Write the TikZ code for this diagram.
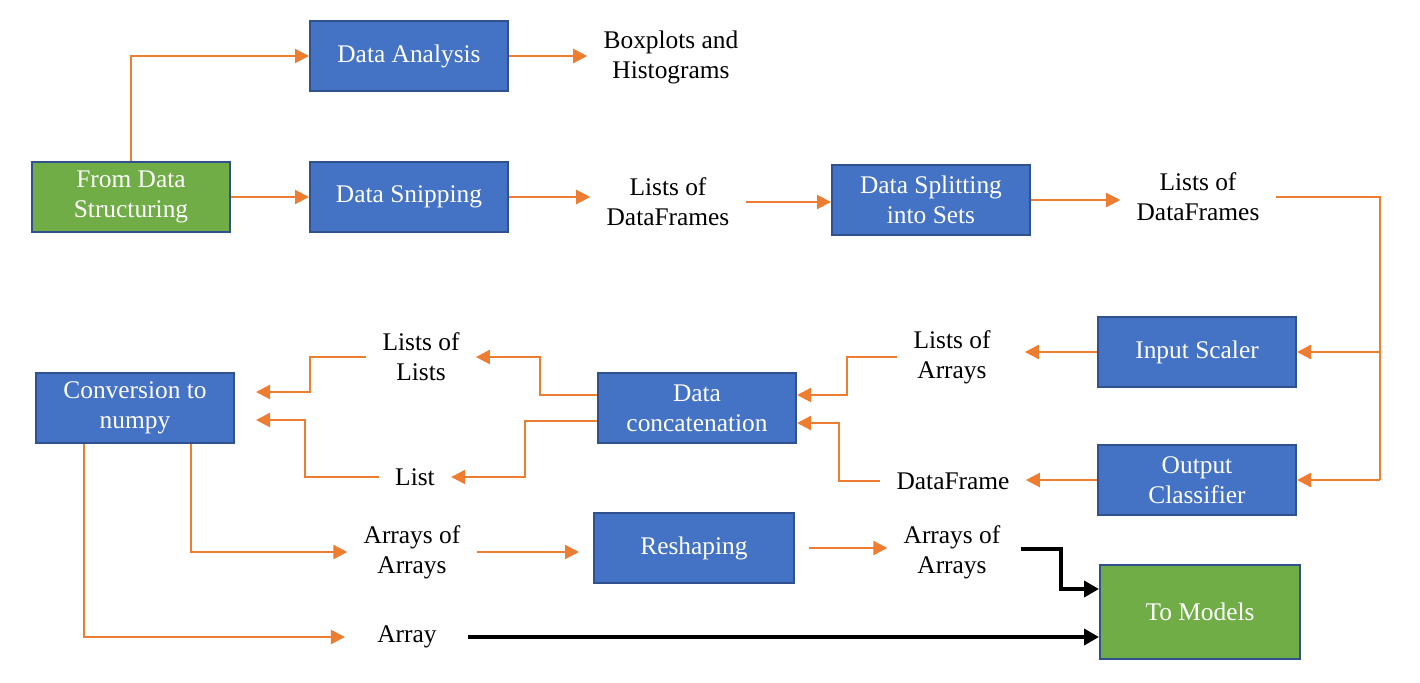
\documentclass[tikz,border=0pt]{standalone}
\usepackage{fontspec}
\setmainfont{Liberation Serif}
\usetikzlibrary{arrows.meta,calc}
\definecolor{boxblue}{HTML}{4472C4}
\definecolor{boxline}{HTML}{2F528F}
\definecolor{boxgreen}{HTML}{70AD47}
\definecolor{flow}{HTML}{ED7D31}
\tikzset{
  stage/.style={draw=boxline,line width=1pt,fill=boxblue,text=white,minimum width=99pt,minimum height=35pt,align=center,inner sep=2pt},
  ends/.style={stage,fill=boxgreen},
  datanode/.style={align=center,inner xsep=8pt,inner ysep=0pt},
  flowline/.style={draw=flow,line width=1.1pt},
  flowarrow/.style={flowline,-{Triangle[length=7pt,width=7pt]}},
  tomodel/.style={draw=black,line width=2pt,-{Triangle[length=7.5pt,width=8pt]}},
}
\begin{document}
\begin{tikzpicture}[x=0.5pt,y=-0.5pt,font=\fontsize{12.7pt}{15pt}\selectfont]
	\useasboundingbox (0,0) rectangle (1420,682);
	% processing stages
	\node[ends] (fds) at (131,197) {From Data\\Structuring};
	\node[stage] (da) at (409,56) {Data Analysis};
	\node[stage] (dsn) at (409,197) {Data Snipping};
	\node[stage] (dsp) at (931,200) {Data Splitting\\into Sets};
	\node[stage] (is) at (1197,352) {Input Scaler};
	\node[stage] (oc) at (1197,480) {Output\\Classifier};
	\node[stage] (cc) at (697,408) {Data\\concatenation};
	\node[stage] (cn) at (135,408) {Conversion to\\numpy};
	\node[stage,minimum width=100pt] (rs) at (694,548) {Reshaping};
	\node[ends,minimum width=100pt,minimum height=47pt] (tm) at (1200,612) {To Models};
	% data between stages
	\node[datanode] (bh) at (671,57) {Boxplots and\\Histograms};
	\node[datanode] (ldfa) at (668,202) {Lists of\\DataFrames};
	\node[datanode] (ldfb) at (1198,197) {Lists of\\DataFrames};
	\node[datanode] (la) at (952,357) {Lists of\\Arrays};
	\node[datanode] (dfr) at (953,481) {DataFrame};
	\node[datanode] (ll) at (421,357) {Lists of\\Lists};
	\node[datanode] (li) at (415,477) {List};
	\node[datanode] (aaa) at (412,552) {Arrays of\\Arrays};
	\node[datanode] (aab) at (952,552) {Arrays of\\Arrays};
	\node[datanode] (ar) at (407,637) {Array};
	% top row
	\draw[flowarrow] (fds.north) |- (da.west);
	\draw[flowarrow] (fds.east) -- (dsn.west);
	\draw[flowarrow] (da.east) -- (da.east -| bh.west);
	\draw[flowarrow] (dsn.east) -- (dsn.east -| ldfa.west);
	\draw[flowarrow] (ldfa.east) -- (ldfa.east -| dsp.west);
	\draw[flowarrow] (dsp.east) -- (dsp.east -| ldfb.west);
	\coordinate (bus) at ($(is.east)+(83,0)$);
	\draw[flowline] (ldfb.east) -| (bus |- oc.east);
	\draw[flowarrow] (bus) -- (is.east);
	\draw[flowarrow] (bus |- oc.east) -- (oc.east);
	% middle row
	\draw[flowarrow,shorten >=9pt] (is.west) -- (is.west -| la.east);
	\draw[flowarrow] (oc.west) -- (oc.west -| dfr.east);
	\draw[flowarrow] (la.west) -- ++(-50,0) |- ($(cc.east)+(0,-13)$);
	\draw[flowarrow] (dfr.west) -- ++(-41,0) |- ($(cc.east)+(0,15)$);
	\draw[flowarrow] ($(cc.west)+(0,-13)$) -- ++(-57,0) |- (ll.east);
	\draw[flowarrow] ($(cc.west)+(0,13)$) -- ++(-72,0) |- (li.east);
	\draw[flowarrow,shorten >=10.5pt] (ll.west) -- ++(-56,0) |- ($(cn.east)+(0,-16)$);
	\draw[flowarrow,shorten >=10.5pt] (li.west) -- ++(-74,0) |- ($(cn.east)+(0,12)$);
	% bottom rows
	\draw[flowarrow] ($(cn.south)+(56,0)$) |- (aaa.west);
	\draw[flowarrow,shorten >=8pt] ($(cn.south)+(-51,0)$) |- (ar.west);
	\draw[flowarrow,shorten >=7pt] (aaa.east) -- (aaa.east -| rs.west);
	\draw[flowarrow,shorten <=7pt] (rs.east) -- (rs.east -| aab.west);
	\draw[tomodel] ($(aab.east)+(4,-3)$) -- ++(40,0) |- ($(tm.west)+(0,-23)$);
	\draw[tomodel,shorten <=7.5pt] (ar.east) -- (ar.east -| tm.west);
\end{tikzpicture}
\end{document}
